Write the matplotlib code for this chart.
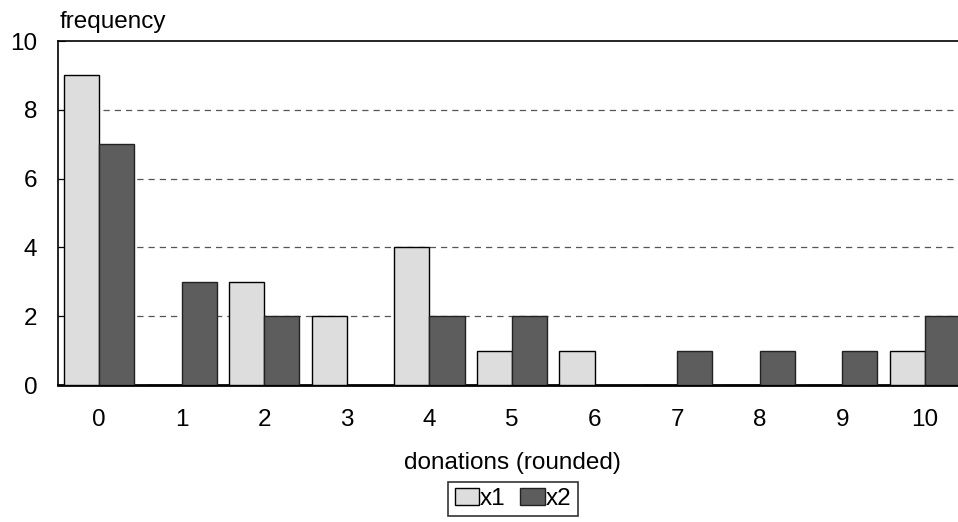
import numpy as np
import matplotlib
matplotlib.use('Agg')
import matplotlib.pyplot as plt

plt.rcParams['font.family'] = ['Liberation Sans', 'DejaVu Sans']

categories = ['0', '1', '2', '3', '4', '5', '6', '7', '8', '9', '10']
x1 = [9, 0, 3, 2, 4, 1, 1, 0, 0, 0, 1]
x2 = [7, 3, 2, 0, 2, 2, 0, 1, 1, 1, 2]

fs = 17.5
fig = plt.figure(figsize=(9.58, 5.22), dpi=100)
# the plot area runs a little past the right edge of the picture
ax = fig.add_axes([58/958, 1-385/522, 908/958, 344/522])

pos = np.arange(len(categories))
w = 0.425
ax.bar(pos - w/2, x1, width=w, color='#dddddd', edgecolor='black', linewidth=1.0, label='x1', zorder=3)
ax.bar(pos + w/2, x2, width=w, color='#5d5d5d', edgecolor='#222222', linewidth=1.0, label='x2', zorder=3)

ax.set_xlim(-0.5, len(categories) - 0.5)
ax.set_ylim(0, 10)
ax.set_yticks([0, 2, 4, 6, 8, 10])
ax.set_xticks(pos)
ax.set_xticklabels(categories)
ax.tick_params(axis='x', length=0, pad=17, labelsize=fs)
ax.tick_params(axis='y', length=5, direction='in', pad=15, labelsize=fs)
for y in [2, 4, 6, 8]:
    ax.axhline(y, color='#555555', linestyle=(0, (5, 4)), linewidth=0.9, zorder=1)
for s in ['left', 'bottom', 'top']:
    ax.spines[s].set_linewidth(1.2)
ax.spines['bottom'].set_linewidth(2)
ax.spines['right'].set_visible(False)

fig.text(60/958, 1-22/522, 'frequency', fontsize=fs, va='center', ha='left')
fig.text(512/958, 1-463/522, 'donations (rounded)', fontsize=fs, va='center', ha='center')

leg = fig.legend(loc='center', bbox_to_anchor=(513/958, 1-499/522), ncol=2, fontsize=fs,
                 frameon=True, fancybox=False, edgecolor='black', handlelength=1.0,
                 handleheight=0.65, handletextpad=0.05, columnspacing=0.6, borderpad=0.25,
                 borderaxespad=0)
leg.get_frame().set_linewidth(1.2)

fig.savefig('out.png', dpi=100)
